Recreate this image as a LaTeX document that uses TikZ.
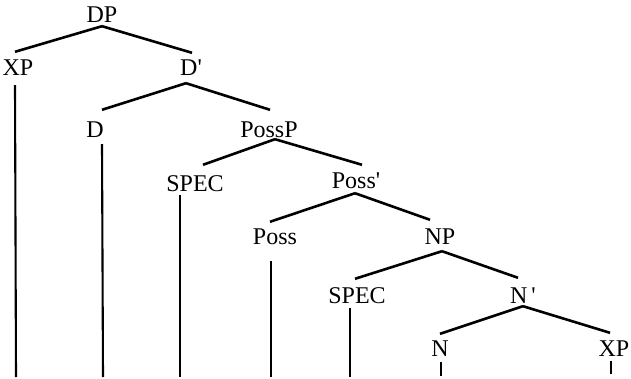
\documentclass[tikz,border=0pt]{standalone}
\usepackage{fontspec}
\setmainfont{Liberation Serif}[Ligatures=TeXOff]
\begin{document}
\begin{tikzpicture}[x=1pt,y=-1pt,
  lbl/.style={inner sep=0pt,text height=15.6pt,text depth=0pt,font=\fontsize{24}{24}\selectfont},
  edge/.style={line width=2.6pt},
  stem/.style={line width=2.1pt}]
\useasboundingbox (0,0) rectangle (631,379);
\fill[white] (0,0) rectangle (631,379);
% labels
\node[lbl] (dp) at (102,15) {DP};
\node[lbl] (xpa) at (18,68) {XP};
\node[lbl] (dbar) at (191,68) {D{\char"27}};
\node[lbl] (d) at (95,130) {D};
\node[lbl] (possp) at (269,130) {PossP};
\node[lbl] (speca) at (195,184) {SPEC};
\node[lbl] (possbar) at (356,181) {Poss{\char"27}};
\node[lbl] (poss) at (275,237) {Poss};
\node[lbl] (np) at (440,237) {NP};
\node[lbl] (specb) at (357,296) {SPEC};
\node[lbl] (nbar) at (523,296) {N\,{\char"27}};
\node[lbl] (n) at (440,349) {N};
\node[lbl] (xpb) at (614,349) {XP};
% free ends of the stems
\coordinate (xpaend) at (16,377);
\coordinate (dend) at (103,377);
\coordinate (specaend) at (180,377);
\coordinate (possend) at (271,377);
\coordinate (specbend) at (350,377);
\coordinate (nend) at (441,376);
\coordinate (xpbend) at (611,374);
% branches
\draw[edge] ([shift={(0,3.2)}]dp.south) -- ([shift={(-3,-8.2)}]xpa.north);
\draw[edge] ([shift={(0,3.2)}]dp.south) -- ([shift={(1,-7.2)}]dbar.north);
\draw[edge] ([shift={(-5,7.2)}]dbar.south) -- ([shift={(7,-12.2)}]d.north);
\draw[edge] ([shift={(-5,7.2)}]dbar.south) -- ([shift={(1,-12.2)}]possp.north);
\draw[edge] ([shift={(6,1.2)}]possp.south) -- ([shift={(8,-11.2)}]speca.north);
\draw[edge] ([shift={(6,1.2)}]possp.south) -- ([shift={(6,-8.2)}]possbar.north);
\draw[edge] ([shift={(-1,4.2)}]possbar.south) -- ([shift={(-5,-7.2)}]poss.north);
\draw[edge] ([shift={(-1,4.2)}]possbar.south) -- ([shift={(-10,-9.2)}]np.north);
\draw[edge] ([shift={(2,6.2)}]np.south) -- ([shift={(-2,-9.2)}]specb.north);
\draw[edge] ([shift={(2,6.2)}]np.south) -- ([shift={(-5,-10.2)}]nbar.north);
\draw[edge] ([shift={(0,2.2)}]nbar.south) -- ([shift={(0,-7.2)}]n.north);
\draw[edge] ([shift={(0,2.2)}]nbar.south) -- ([shift={(-4,-8.2)}]xpb.north);
% stems
\draw[stem] ([shift={(-3,9.2)}]xpa.south) -- (xpaend);
\draw[stem] ([shift={(7,6.2)}]d.south) -- (dend);
\draw[stem] ([shift={(-15,3.2)}]speca.south) -- (specaend);
\draw[stem] ([shift={(-4,16.2)}]poss.south) -- (possend);
\draw[stem] ([shift={(-7,4.2)}]specb.south) -- (specbend);
\draw[stem] ([shift={(1,5.2)}]n.south) -- (nend);
\draw[stem] ([shift={(-3,4.2)}]xpb.south) -- (xpbend);
\end{tikzpicture}
\end{document}
